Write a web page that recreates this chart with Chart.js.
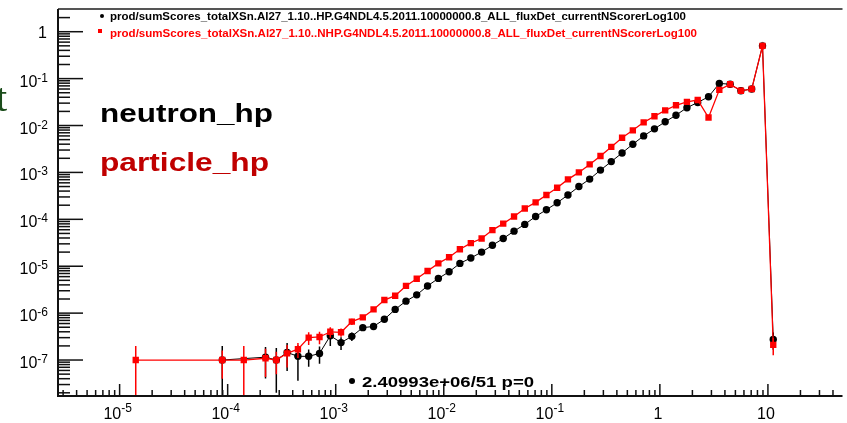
<!DOCTYPE html>
<html>
<head>
<meta charset="utf-8">
<script src="https://cdn.jsdelivr.net/npm/chart.js@4.4.1/dist/chart.umd.min.js"></script>
<style>
  html, body { margin: 0; padding: 0; background: #fff; }
  canvas { display: block; }
</style>
</head>
<body>
<canvas id="c" width="847" height="423"></canvas>
<script>
// bin centres (MeV), 10 log bins per decade
const binE = [
  1.41e-5, 1.78e-5, 2.24e-5, 2.82e-5, 3.55e-5, 4.47e-5, 5.62e-5, 7.08e-5, 8.91e-5,
  1.12e-4, 1.41e-4, 1.78e-4, 2.24e-4, 2.82e-4, 3.55e-4, 4.47e-4, 5.62e-4, 7.08e-4, 8.91e-4,
  1.12e-3, 1.41e-3, 1.78e-3, 2.24e-3, 2.82e-3, 3.55e-3, 4.47e-3, 5.62e-3, 7.08e-3, 8.91e-3,
  1.12e-2, 1.41e-2, 1.78e-2, 2.24e-2, 2.82e-2, 3.55e-2, 4.47e-2, 5.62e-2, 7.08e-2, 8.91e-2,
  0.112, 0.141, 0.178, 0.224, 0.282, 0.355, 0.447, 0.562, 0.708, 0.891,
  1.12, 1.41, 1.78, 2.24, 2.82, 3.55, 4.47, 5.62, 7.08, 8.91,
  11.2
];

// neutron_hp (black)
const hpVals = [
  null, null, null, null, null, null, null, null, 1.0e-7,
  null, null, null, 1.15e-7, 1.0e-7, 1.45e-7, 1.2e-7, 1.2e-7, 1.38e-7, 3.3e-7,
  2.35e-7, 3.2e-7, 4.9e-7, 5.2e-7, 7.4e-7, 1.2e-6, 1.8e-6, 2.45e-6, 3.8e-6, 5.5e-6,
  7.6e-6, 1.15e-5, 1.5e-5, 2.0e-5, 2.8e-5, 3.9e-5, 5.6e-5, 7.8e-5, 1.15e-4, 1.6e-4,
  2.25e-4, 3.3e-4, 5.0e-4, 7.2e-4, 1.12e-3, 1.7e-3, 2.6e-3, 4.0e-3, 6.0e-3, 8.5e-3,
  1.2e-2, 1.66e-2, 2.4e-2, 3.1e-2, 4.1e-2, 7.9e-2, 7.6e-2, 5.5e-2, 6.0e-2, 0.50,
  2.75e-7
];
const hpRelErr = [
  0, 0, 0, 0, 0, 0, 0, 0, 1.0,
  0, 0, 0, 0.65, 0.8, 0.6, 0.7, 0.4, 0.4, 0.4,
  0.3, 0.2, 0.15, 0.12, 0.1, 0.08, 0.06, 0.05, 0.04, 0.04,
  0.03, 0, 0, 0, 0, 0, 0, 0, 0, 0,
  0, 0, 0, 0, 0, 0, 0, 0, 0, 0,
  0, 0, 0, 0, 0, 0, 0, 0, 0, 0,
  0.4
];

// particle_hp (red)
const phpVals = [
  1.0e-7, null, null, null, null, null, null, null, 1.0e-7,
  null, 1.0e-7, null, 1.09e-7, 1.0e-7, 1.39e-7, 1.7e-7, 3.0e-7, 3.1e-7, 4.0e-7,
  3.9e-7, 6.6e-7, 8.1e-7, 1.2e-6, 1.9e-6, 2.35e-6, 3.8e-6, 5.4e-6, 7.9e-6, 1.15e-5,
  1.55e-5, 2.3e-5, 3.1e-5, 3.9e-5, 5.9e-5, 8.1e-5, 1.15e-4, 1.7e-4, 2.3e-4, 3.3e-4,
  4.7e-4, 7.1e-4, 1.0e-3, 1.48e-3, 2.24e-3, 3.5e-3, 5.5e-3, 7.9e-3, 1.17e-2, 1.58e-2,
  2.1e-2, 2.7e-2, 3.2e-2, 3.5e-2, 1.48e-2, 5.75e-2, 7.6e-2, 5.5e-2, 6.0e-2, 0.50,
  2.1e-7
];
const phpRelErr = [
  1.0, 0, 0, 0, 0, 0, 0, 0, 0.6,
  0, 1.0, 0, 0.6, 0.5, 0.5, 0.35, 0.3, 0.3, 0.25,
  0.2, 0.15, 0.12, 0.1, 0.08, 0.07, 0.06, 0.05, 0.04, 0.04,
  0.03, 0, 0, 0, 0, 0, 0, 0, 0, 0,
  0, 0, 0, 0, 0, 0, 0, 0, 0, 0,
  0, 0, 0, 0, 0, 0, 0, 0, 0, 0,
  0.4
];

const seriesNames = [
  "prod/sumScores_totalXSn.Al27_1.10..HP.G4NDL4.5.2011.10000000.8_ALL_fluxDet_currentNScorerLog100",
  "prod/sumScores_totalXSn.Al27_1.10..NHP.G4NDL4.5.2011.10000000.8_ALL_fluxDet_currentNScorerLog100"
];
const statText = "2.40993e+06/51 p=0";

const xTickVals = [1e-5, 1e-4, 1e-3, 1e-2, 1e-1, 1, 10];
const xTickBase = ["10", "10", "10", "10", "10", "1", "10"];
const xTickExp  = ["-5", "-4", "-3", "-2", "-1", "", ""];
const yTickVals = [1, 1e-1, 1e-2, 1e-3, 1e-4, 1e-5, 1e-6, 1e-7];
const yTickBase = ["1", "10", "10", "10", "10", "10", "10", "10"];
const yTickExp  = ["", "-1", "-2", "-3", "-4", "-5", "-6", "-7"];

const toPoints = (vals, rel) =>
  binE.map((e, i) => ({ x: e, y: vals[i], err: vals[i] == null ? 0 : vals[i] * rel[i] }))
      .filter((p) => p.y != null);

const FONT = "'Liberation Sans', Arial, Helvetica, sans-serif";

// draw text stretched to a given width (ROOT text is rendered wide)
function fitText(ctx, text, x, y, width, size, weight, color) {
  ctx.save();
  ctx.font = `${weight} ${size}px ${FONT}`;
  ctx.fillStyle = color;
  ctx.textAlign = "left";
  ctx.textBaseline = "alphabetic";
  const w = ctx.measureText(text).width;
  ctx.translate(x, y);
  ctx.scale(width / w, 1);
  ctx.fillText(text, 0, 0);
  ctx.restore();
}

// ----- error bars -----
const errorBars = {
  id: "errorBars",
  afterDatasetDraw(chart, args) {
    const ds = chart.data.datasets[args.index];
    const meta = args.meta;
    const ys = chart.scales.y;
    const area = chart.chartArea;
    const ctx = chart.ctx;
    ctx.save();
    ctx.beginPath();
    ctx.rect(area.left, area.top, area.right - area.left, area.bottom - area.top);
    ctx.clip();
    ctx.strokeStyle = ds.borderColor;
    ctx.lineWidth = 1.5;
    ds.data.forEach((p, i) => {
      if (!p.err) return;
      const el = meta.data[i];
      const hi = ys.getPixelForValue(p.y + p.err);
      const lo = p.y - p.err > 0 ? ys.getPixelForValue(p.y - p.err) : area.bottom;
      ctx.beginPath();
      ctx.moveTo(el.x, hi);
      ctx.lineTo(el.x, lo);
      ctx.stroke();
    });
    ctx.restore();
  },
};

// ----- ROOT-style frame, ticks, labels, texts -----
const rootFrame = {
  id: "rootFrame",
  afterDraw(chart) {
    const ctx = chart.ctx;
    const a = chart.chartArea;
    const xs = chart.scales.x, ys = chart.scales.y;
    ctx.save();

    // frame
    ctx.strokeStyle = "#555";
    ctx.lineWidth = 2;
    ctx.beginPath(); ctx.moveTo(a.left, a.top); ctx.lineTo(a.right, a.top); ctx.stroke();
    ctx.strokeStyle = "#111";
    ctx.beginPath(); ctx.moveTo(a.left, a.top); ctx.lineTo(a.left, a.bottom); ctx.lineTo(a.right, a.bottom); ctx.stroke();

    // y ticks (inward)
    ctx.lineWidth = 1.5;
    for (let d = -8; d <= 0; d++) {
      for (let n = 1; n <= 9; n++) {
        const v = n * Math.pow(10, d);
        const py = ys.getPixelForValue(v);
        if (py < a.top + 1 || py > a.bottom - 1) continue;
        ctx.beginPath();
        ctx.moveTo(a.left, py);
        ctx.lineTo(a.left + (n === 1 ? 25 : 12), py);
        ctx.stroke();
      }
    }
    // x ticks (upward)
    for (let d = -6; d <= 1; d++) {
      for (let n = 1; n <= 9; n++) {
        const v = n * Math.pow(10, d);
        const px = xs.getPixelForValue(v);
        if (px < a.left + 1 || px > a.right) continue;
        ctx.beginPath();
        ctx.moveTo(px, a.bottom);
        ctx.lineTo(px, a.bottom - (n === 1 ? 12 : 6));
        ctx.stroke();
      }
    }

    // tick labels
    ctx.fillStyle = "#000";
    ctx.textBaseline = "alphabetic";
    yTickVals.forEach((v, i) => {
      const py = ys.getPixelForValue(v);
      const right = 48;
      ctx.textAlign = "right";
      if (yTickExp[i]) {
        ctx.font = `12px ${FONT}`;
        const ew = ctx.measureText(yTickExp[i]).width;
        ctx.fillText(yTickExp[i], right, py + 3);
        ctx.font = `16px ${FONT}`;
        ctx.fillText(yTickBase[i], right - ew, py + 8);
      } else {
        ctx.font = `16px ${FONT}`;
        ctx.fillText(yTickBase[i], right - 1, py + 6);
      }
    });
    xTickVals.forEach((v, i) => {
      const px = xs.getPixelForValue(v);
      ctx.textAlign = "left";
      ctx.font = `16px ${FONT}`;
      const bw = ctx.measureText(xTickBase[i]).width;
      ctx.font = `12px ${FONT}`;
      const ew = xTickExp[i] ? ctx.measureText(xTickExp[i]).width : 0;
      const x0 = px - 2 - (bw + ew) / 2;
      ctx.font = `16px ${FONT}`;
      ctx.fillText(xTickBase[i], x0, 419);
      if (xTickExp[i]) {
        ctx.font = `12px ${FONT}`;
        ctx.fillText(xTickExp[i], x0 + bw, 412);
      }
    });

    // legend
    ctx.fillStyle = "#000";
    ctx.beginPath(); ctx.arc(102, 16, 2, 0, Math.PI * 2); ctx.fill();
    fitText(ctx, seriesNames[0], 110, 20, 576, 10, "bold", "#000");
    ctx.fillStyle = "#ff0000";
    ctx.fillRect(98, 29, 4, 4);
    fitText(ctx, seriesNames[1], 110, 37, 587, 10, "bold", "#ff0000");

    // annotations
    fitText(ctx, "neutron_hp", 100, 122, 173, 26, "bold", "#000");
    fitText(ctx, "particle_hp", 100, 171, 169, 26, "bold", "#c00000");

    // stat box text
    ctx.fillStyle = "#000";
    ctx.beginPath(); ctx.arc(352, 381, 3, 0, Math.PI * 2); ctx.fill();
    fitText(ctx, statText, 362, 387, 172, 14, "bold", "#000");

    // cut-off letter from the slide behind
    ctx.font = "40px 'Liberation Serif', 'DejaVu Serif', serif";
    ctx.fillStyle = "#1b4d1b";
    ctx.textAlign = "left";
    ctx.fillText("t", -4, 111);

    ctx.restore();
  },
};

new Chart(document.getElementById("c"), {
  type: "scatter",
  data: {
    datasets: [
      {
        label: seriesNames[1],
        data: toPoints(phpVals, phpRelErr),
        showLine: true,
        borderColor: "#ff0000",
        backgroundColor: "#ff0000",
        borderWidth: 1.3,
        pointStyle: "rect",
        pointRadius: 4.5,
        pointBorderWidth: 0,
        tension: 0,
      },
      {
        label: seriesNames[0],
        data: toPoints(hpVals, hpRelErr),
        showLine: true,
        borderColor: "#000000",
        backgroundColor: "#000000",
        borderWidth: 1,
        pointStyle: "circle",
        pointRadius: 3.7,
        pointBorderWidth: 0,
        tension: 0,
      },
    ],
  },
  options: {
    responsive: false,
    animation: false,
    devicePixelRatio: 1,
    layout: { padding: { left: 58, top: 9, right: 0, bottom: 27 } },
    plugins: { legend: { display: false }, tooltip: { enabled: false } },
    scales: {
      x: { type: "logarithmic", display: false, min: 2.69e-6, max: 49 },
      y: { type: "logarithmic", display: false, min: 1.71e-8, max: 3.05 },
    },
  },
  plugins: [errorBars, rootFrame],
});
</script>
</body>
</html>
